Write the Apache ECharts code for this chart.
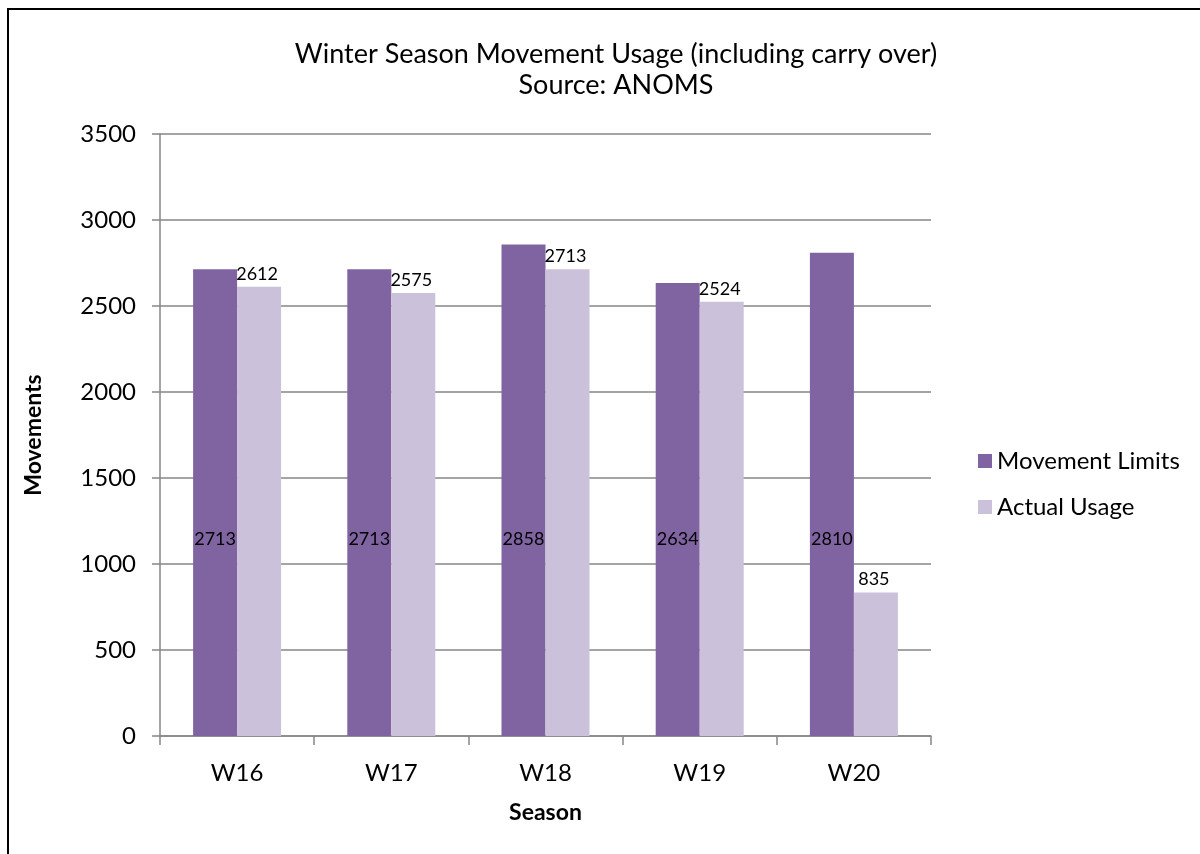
<!DOCTYPE html>
<html>
<head>
<meta charset="utf-8">
<script src="https://cdn.jsdelivr.net/npm/echarts@6/dist/echarts.min.js"></script>
<style>
  body { margin: 0; background: #fff; }
  #frame { position: absolute; left: 7px; top: 8px; width: 1200px; height: 860px;
           border-left: 2px solid #000; border-top: 2px solid #000; }
  #chart { position: absolute; left: 0; top: 0; width: 1200px; height: 854px; }
</style>
</head>
<body>
<div id="frame"></div>
<div id="chart"></div>
<script>
// chart data
var seasons = ['W16', 'W17', 'W18', 'W19', 'W20'];
var movementLimits = [2713, 2713, 2858, 2634, 2810];
var actualUsage = [2612, 2575, 2713, 2524, 835];

var fontName = 'Lato, "Open Sans", sans-serif';
var axisGrey = '#868686';

var myChart = echarts.init(document.getElementById('chart'));
var option = {
  animation: false,
  textStyle: { fontFamily: fontName, color: '#000' },
  graphic: [
    {
      type: 'text',
      x: 616,
      y: 39,
      style: {
        text: 'Winter Season Movement Usage (including carry over)\nSource: ANOMS',
        align: 'center',
        fontSize: 27,
        lineHeight: 31,
        fontFamily: fontName,
        fill: '#000'
      }
    }
  ],
  legend: {
    orient: 'vertical',
    left: 973,
    top: 444,
    itemWidth: 14,
    itemHeight: 14,
    itemGap: 22,
    icon: 'rect',
    textStyle: { fontSize: 24, fontFamily: fontName, color: '#000' },
    data: ['Movement Limits', 'Actual Usage']
  },
  grid: {
    left: 160,
    right: 269,
    top: 134,
    bottom: 118
  },
  xAxis: {
    type: 'category',
    data: seasons,
    name: 'Season',
    nameLocation: 'middle',
    nameGap: 65,
    nameTextStyle: { fontSize: 23, fontWeight: 'bold', fontFamily: fontName, color: '#000' },
    axisLine: { lineStyle: { color: axisGrey, width: 1.5 } },
    axisTick: { show: true, length: 9, lineStyle: { color: axisGrey, width: 1.5 } },
    axisLabel: { fontSize: 24, color: '#000', margin: 25 }
  },
  yAxis: {
    type: 'value',
    min: 0,
    max: 3500,
    interval: 500,
    name: 'Movements',
    nameLocation: 'middle',
    nameGap: 115,
    nameTextStyle: { fontSize: 23, fontWeight: 'bold', fontFamily: fontName, color: '#000' },
    axisLine: { show: true, lineStyle: { color: axisGrey, width: 1.5 } },
    axisTick: { show: true, length: 8, lineStyle: { color: axisGrey, width: 1.5 } },
    splitLine: { lineStyle: { color: axisGrey, width: 1.5 } },
    axisLabel: { fontSize: 24, color: '#000', margin: 24, formatter: function (v) { return String(v); } }
  },
  series: [
    {
      name: 'Movement Limits',
      type: 'bar',
      data: movementLimits,
      barWidth: 44,
      barGap: '0%',
      itemStyle: { color: '#8064A2' },
      label: {
        show: true,
        position: 'insideBottom',
        distance: 0,
        offset: [0, -188],
        fontSize: 18,
        color: '#000'
      }
    },
    {
      name: 'Actual Usage',
      type: 'bar',
      data: actualUsage,
      barWidth: 44,
      barGap: '0%',
      itemStyle: { color: '#CCC1DA' },
      label: {
        show: true,
        position: 'top',
        distance: 4,
        offset: [-2, 0],
        fontSize: 18,
        color: '#000'
      }
    }
  ]
};
myChart.setOption(option);
</script>
</body>
</html>
